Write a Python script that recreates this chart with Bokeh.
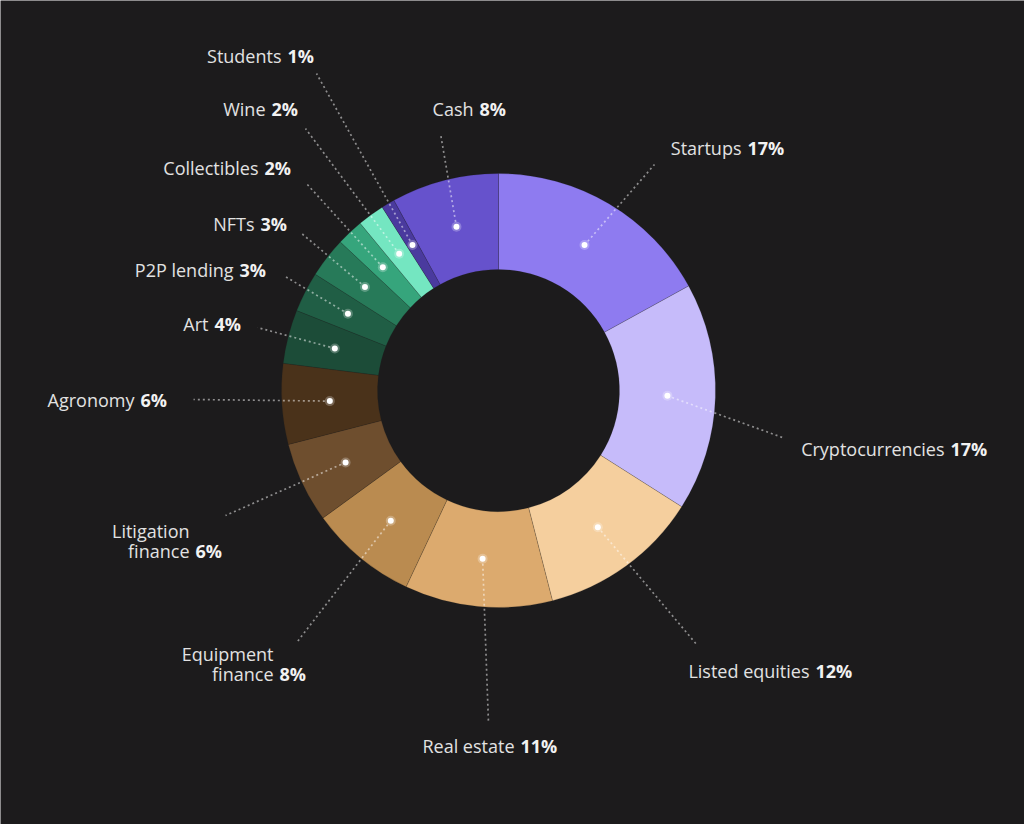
import math
from bokeh.plotting import figure
from bokeh.models import Range1d, ColumnDataSource
from bokeh.core.properties import value
from bokeh.embed import file_html
from bokeh.resources import INLINE

# ---- data ----
categories = ["Startups", "Cryptocurrencies", "Listed equities", "Real estate",
              "Equipment finance", "Litigation finance", "Agronomy", "Art",
              "P2P lending", "NFTs", "Collectibles", "Wine", "Students", "Cash"]
shares = [17, 17, 12, 11, 8, 6, 6, 4, 3, 3, 2, 2, 1, 8]
label_lines = [["Startups"], ["Cryptocurrencies"], ["Listed equities"], ["Real estate"],
               ["Equipment", "finance"], ["Litigation", "finance"], ["Agronomy"], ["Art"],
               ["P2P lending"], ["NFTs"], ["Collectibles"], ["Wine"], ["Students"], ["Cash"]]
colors = ["#8e7bf0", "#c6bbfa", "#f5cf9e", "#dcaa6e", "#ba8b50", "#6e4e2e", "#4a321a",
          "#1c4c38", "#205e45", "#277a59", "#36a57c", "#74e6c1", "#4a3a9e", "#6652cc"]

# ---- layout (pixel positions, top-left origin) ----
W, H = 1024, 824
CX, CY = 498, 390
R_IN, R_OUT, R_DOT = 121, 217, 169
# (name right edge x, last-line y, leader outer end x, leader outer end y)
label_layout = [
    (741, 147, 654, 164), (944, 448, 782, 437), (809, 670, 697, 645),
    (514, 745, 488, 723), (273, 673, 297, 641), (189, 550, 225, 515),
    (134, 399, 193, 399), (208, 323, 257, 327), (233, 269, 283, 275),
    (254, 223, 300, 232), (258, 167, 305, 182), (265, 108, 305, 128),
    (281, 55, 316, 73), (473, 108, 440, 133),
]

def Y(py):
    return H - py

BG = "#1c1b1c"
FONT = value("Open Sans")

p = figure(width=W, height=H, x_range=Range1d(0, W), y_range=Range1d(0, H),
           x_axis_type=None, y_axis_type=None, toolbar_location=None,
           output_backend="svg", min_border=0, background_fill_color=BG,
           border_fill_color=BG, outline_line_color=None)
p.grid.visible = False

total = float(sum(shares))
starts, ends, mids = [], [], []
cum = 0.0
for s in shares:
    a0 = math.pi / 2 - 2 * math.pi * cum / total
    cum += s
    a1 = math.pi / 2 - 2 * math.pi * cum / total
    starts.append(a0)
    ends.append(a1)
    mids.append((a0 + a1) / 2)

wedges = ColumnDataSource(dict(start=starts, end=ends, color=colors))
p.annular_wedge(x=CX, y=Y(CY), inner_radius=R_IN, outer_radius=R_OUT,
                start_angle="start", end_angle="end", direction="clock",
                fill_color="color", line_color=BG, line_width=0.6, line_alpha=0.3,
                source=wedges)

dot_x = [CX + R_DOT * math.cos(m) for m in mids]
dot_y = [Y(CY) + R_DOT * math.sin(m) for m in mids]

# leaders
xs, ys = [], []
for (nx, ny, ex, ey), dx, dy in zip(label_layout, dot_x, dot_y):
    xs.append([dx, ex])
    ys.append([dy, Y(ey)])
p.multi_line(xs=xs, ys=ys, line_color="#ffffff", line_alpha=0.5, line_width=1.7,
             line_dash="2 3")

# dots
p.scatter(x=dot_x, y=dot_y, size=10, fill_color="#ffffff", fill_alpha=0.25, line_color=None)
p.scatter(x=dot_x, y=dot_y, size=6, fill_color="#ffffff", line_color=None)

# labels
name_x, name_y, name_t = [], [], []
pct_x, pct_y, pct_t = [], [], []
for lines, s, (nx, ny, ex, ey) in zip(label_lines, shares, label_layout):
    n = len(lines)
    for i, ln in enumerate(lines):
        name_x.append(nx)
        name_y.append(Y(ny - (n - 1 - i) * 20))
        name_t.append(ln)
    pct_x.append(nx + 6)
    pct_y.append(Y(ny))
    pct_t.append(f"{s}%")

p.text(x=name_x, y=name_y, text=name_t, text_align="right", text_baseline="middle",
       text_font=FONT, text_font_size="18px", text_color="#e2e2e2")
p.text(x=pct_x, y=pct_y, text=pct_t, text_align="left", text_baseline="middle",
       text_font=FONT, text_font_size="18px", text_font_style="bold", text_color="#f2f2f2")

open("out.html", "w").write(file_html(p, INLINE))
